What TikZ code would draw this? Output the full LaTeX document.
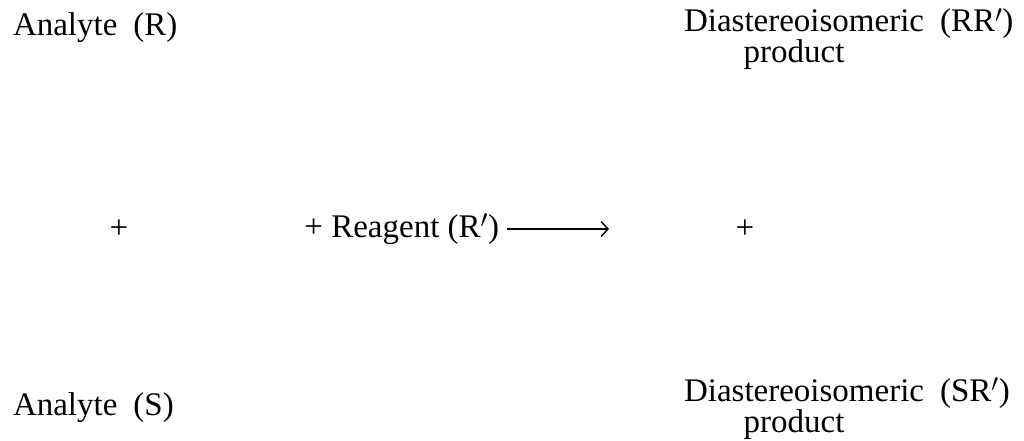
\documentclass[tikz,border=0pt]{standalone}
\usepackage{fontspec}
\setmainfont{Liberation Serif}
\usetikzlibrary{arrows.meta}
\begin{document}
\begin{tikzpicture}[x=1pt,y=-1pt,
  lbl/.style={inner sep=0pt,outer sep=0pt,font=\fontsize{33}{36}\selectfont,anchor=base west},
  plus/.style={inner sep=0pt,font=\fontsize{33}{36}\selectfont},
  rxn/.style={line width=1.4pt,-{Straight Barb[length=7pt,width=15pt,line width=1.4pt]}}]
\useasboundingbox (0,0) rectangle (1024,441);
\node[lbl] (aR) at (13,36) {Analyte\hspace{16pt}(R)};
\node[lbl] (dRR) at (684,32) {Diastereoisomeric\hspace{16pt}(RR$^{\prime}$)};
\node[lbl,anchor=base] (pRR) at (794,63) {product};
\node[plus] (pl) at (119,229) {+};
\node[lbl,anchor=base east] (rg) at (499,237) {+ Reagent (R$^{\prime}$)};
\coordinate (as) at ([xshift=8pt,yshift=8pt]rg.base east);
\coordinate (ae) at (609,229);
\draw[rxn] (as) -- (ae);
\node[plus] (pr) at (745,229) {+};
\node[lbl] (aS) at (13,415) {Analyte\hspace{16pt}(S)};
\node[lbl] (dSR) at (684,401) {Diastereoisomeric\hspace{16pt}(SR$^{\prime}$)};
\node[lbl,anchor=base] (pSR) at (794,432) {product};
\end{tikzpicture}
\end{document}
